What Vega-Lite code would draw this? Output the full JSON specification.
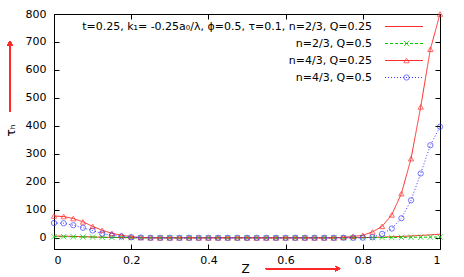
{
  "$schema": "https://vega.github.io/schema/vega-lite/v6.json",
  "width": 386,
  "height": 235,
  "autosize": {"type": "none"},
  "padding": {"left": 54, "top": 14, "right": 24, "bottom": 28},
  "background": "white",
  "config": {
    "view": {"stroke": "black", "strokeWidth": 1},
    "font": "DejaVu Sans",
    "axis": {"labelFont": "DejaVu Sans", "labelFontSize": 11, "labelColor": "black", "titleFont": "DejaVu Sans", "titleFontWeight": "normal", "titleColor": "black", "domainColor": "black", "tickColor": "black", "grid": false},
    "legend": {"labelFont": "DejaVu Sans", "labelFontSize": 11, "labelColor": "black", "labelLimit": 400}
  },
  "data": {
    "values": [
      {"z": 0, "A": 6, "B": 4, "C": 78, "D": 53},
      {"z": 0.025, "A": 6, "B": 4, "C": 76, "D": 52},
      {"z": 0.05, "A": 5, "B": 3.5, "C": 69, "D": 45},
      {"z": 0.075, "A": 4, "B": 3, "C": 57, "D": 36},
      {"z": 0.1, "A": 3, "B": 2.5, "C": 41, "D": 26},
      {"z": 0.125, "A": 2, "B": 2, "C": 27, "D": 15},
      {"z": 0.15, "A": 1.5, "B": 1.5, "C": 16, "D": 9},
      {"z": 0.175, "A": 1, "B": 1, "C": 9, "D": 5},
      {"z": 0.2, "A": 0.5, "B": 0.5, "C": 4, "D": 2},
      {"z": 0.225, "A": 0, "B": 0, "C": 1.5, "D": 1},
      {"z": 0.25, "A": 0, "B": 0, "C": 0.5, "D": 0},
      {"z": 0.275, "A": 0, "B": 0, "C": 0, "D": 0},
      {"z": 0.3, "A": 0, "B": 0, "C": 0, "D": 0},
      {"z": 0.325, "A": 0, "B": 0, "C": 0, "D": 0},
      {"z": 0.35, "A": 0, "B": 0, "C": 0, "D": 0},
      {"z": 0.375, "A": 0, "B": 0, "C": 0, "D": 0},
      {"z": 0.4, "A": 0, "B": 0, "C": 0, "D": 0},
      {"z": 0.425, "A": 0, "B": 0, "C": 0, "D": 0},
      {"z": 0.45, "A": 0, "B": 0, "C": 0, "D": 0},
      {"z": 0.475, "A": 0, "B": 0, "C": 0, "D": 0},
      {"z": 0.5, "A": 0, "B": 0, "C": 0, "D": 0},
      {"z": 0.525, "A": 0, "B": 0, "C": 0, "D": 0},
      {"z": 0.55, "A": 0, "B": 0, "C": 0, "D": 0},
      {"z": 0.575, "A": 0, "B": 0, "C": 0, "D": 0},
      {"z": 0.6, "A": 0, "B": 0, "C": 0, "D": 0},
      {"z": 0.625, "A": 0, "B": 0, "C": 0, "D": 0},
      {"z": 0.65, "A": 0, "B": 0, "C": 0, "D": 0},
      {"z": 0.675, "A": 0, "B": 0, "C": 0, "D": 0},
      {"z": 0.7, "A": 0, "B": 0, "C": 0, "D": 0},
      {"z": 0.725, "A": 0, "B": 0, "C": 0, "D": 0},
      {"z": 0.75, "A": 0.5, "B": 0, "C": 2, "D": 0},
      {"z": 0.775, "A": 0.5, "B": 0, "C": 5, "D": 0},
      {"z": 0.8, "A": 1, "B": 0.5, "C": 9, "D": 0.5},
      {"z": 0.825, "A": 1.5, "B": 0.5, "C": 21, "D": 2},
      {"z": 0.85, "A": 2.5, "B": 1, "C": 41, "D": 14},
      {"z": 0.875, "A": 3.5, "B": 1, "C": 82, "D": 33},
      {"z": 0.9, "A": 5, "B": 1.5, "C": 158, "D": 70},
      {"z": 0.925, "A": 6.5, "B": 2, "C": 283, "D": 134},
      {"z": 0.95, "A": 8.5, "B": 2, "C": 468, "D": 230},
      {"z": 0.975, "A": 10.5, "B": 2.5, "C": 674, "D": 331},
      {"z": 1, "A": 13, "B": 3, "C": 800, "D": 397}
    ]
  },
  "resolve": {"axis": {"x": "independent", "y": "independent"}},
  "layer": [
    {
      "transform": [{"fold": ["A", "B", "C", "D"], "as": ["s", "v"]}],
      "mark": {"type": "line", "strokeWidth": 1},
      "encoding": {
        "x": {"field": "z", "type": "quantitative", "scale": {"domain": [0, 1], "nice": false, "zero": false},
          "axis": {"orient": "bottom", "values": [0, 0.2, 0.4, 0.6, 0.8, 1], "format": "~g", "tickSize": -5, "labelPadding": 10, "title": "Z", "titleFontSize": 12, "titleX": 191, "titleY": 19, "titleBaseline": "middle", "titleAlign": "center"}},
        "y": {"field": "v", "type": "quantitative", "scale": {"domain": [-40, 800], "nice": false, "zero": false},
          "axis": {"orient": "left", "values": [0, 100, 200, 300, 400, 500, 600, 700, 800], "tickSize": -5, "labelPadding": 13, "title": "τₕ", "titleFontSize": 12, "titleX": -44, "titleY": 116, "titleAngle": 270, "titleBaseline": "middle", "titleAlign": "center"}},
        "color": {"field": "s", "type": "nominal",
          "scale": {"domain": ["A", "B", "C", "D"], "range": ["#ff2a2a", "#00cc00", "#ff2a2a", "#3a3aff"]},
          "legend": {"orient": "none", "legendX": 344.5, "legendY": 7, "title": null, "padding": 0, "symbolType": "M-3.8,0L3.8,0", "symbolSize": 100, "symbolStrokeWidth": 1, "labelAlign": "right", "labelOffset": -37.5, "rowPadding": 5,
            "labelExpr": "datum.value == 'A' ? 't=0.25, k₁= -0.25a₀/λ, ϕ=0.5, τ=0.1, n=2/3, Q=0.25' : datum.value == 'B' ? 'n=2/3, Q=0.5' : datum.value == 'C' ? 'n=4/3, Q=0.25' : 'n=4/3, Q=0.5'"}},
        "strokeDash": {"field": "s", "type": "nominal",
          "scale": {"domain": ["A", "B", "C", "D"], "range": [[1, 0], [3, 2], [1, 0], [1, 2]]},
          "legend": {"orient": "none", "legendX": 344.5, "legendY": 7, "title": null, "padding": 0, "symbolType": "M-3.8,0L3.8,0", "symbolSize": 100, "symbolStrokeWidth": 1, "labelAlign": "right", "labelOffset": -37.5, "rowPadding": 5,
            "labelExpr": "datum.value == 'A' ? 't=0.25, k₁= -0.25a₀/λ, ϕ=0.5, τ=0.1, n=2/3, Q=0.25' : datum.value == 'B' ? 'n=2/3, Q=0.5' : datum.value == 'C' ? 'n=4/3, Q=0.25' : 'n=4/3, Q=0.5'"}}
      }
    },
    {
      "transform": [{"fold": ["A", "B", "C", "D"], "as": ["s", "v"]}],
      "mark": {"type": "point", "filled": false, "strokeWidth": 1, "size": 28},
      "encoding": {
        "x": {"field": "z", "type": "quantitative",
          "axis": {"orient": "top", "values": [0, 0.2, 0.4, 0.6, 0.8, 1], "labels": false, "tickSize": -5, "title": null, "domain": false}},
        "y": {"field": "v", "type": "quantitative",
          "axis": {"orient": "right", "values": [0, 100, 200, 300, 400, 500, 600, 700, 800], "labels": false, "tickSize": -5, "title": null, "domain": false}},
        "color": {"field": "s", "type": "nominal", "legend": null},
        "shape": {"field": "s", "type": "nominal",
          "scale": {"domain": ["A", "B", "C", "D", "E"], "range": ["M0,0", "M-1,-1L1,1M-1,1L1,-1", "triangle-up", "circle", "M0,0"]},
          "legend": {"orient": "none", "legendX": 347, "legendY": 7, "title": null, "padding": 0, "symbolSize": 28, "symbolStrokeWidth": 1, "labelOpacity": 0, "labelAlign": "right", "labelOffset": -37.5, "rowPadding": 5,
            "labelExpr": "datum.value == 'A' ? 't=0.25, k₁= -0.25a₀/λ, ϕ=0.5, τ=0.1, n=2/3, Q=0.25' : datum.value == 'B' ? 'n=2/3, Q=0.5' : datum.value == 'C' ? 'n=4/3, Q=0.25' : datum.value == 'D' ? 'n=4/3, Q=0.5' : ' '",
            "encoding": {"symbols": {"stroke": {"value": {"expr": "scale('color', datum.value)"}}, "fill": {"value": "transparent"}}}}}
      }
    },
    {
      "mark": {"type": "rule", "color": "#ff2a2a", "strokeWidth": 1},
      "encoding": {
        "x": {"datum": 0.549, "type": "quantitative", "axis": null},
        "x2": {"datum": 0.741},
        "y": {"datum": -110, "type": "quantitative", "axis": null}
      }
    },
    {
      "mark": {"type": "rule", "color": "#ff2a2a", "strokeWidth": 1},
      "encoding": {
        "x": {"datum": -0.114, "type": "quantitative", "axis": null},
        "y": {"datum": 451, "type": "quantitative", "axis": null},
        "y2": {"datum": 701}
      }
    },
    {
      "mark": {"type": "point", "shape": "M-1,-1L1,0L-1,1", "filled": false, "color": "#ff2a2a", "strokeWidth": 1, "size": 16},
      "encoding": {
        "x": {"datum": 0.735, "type": "quantitative", "axis": null},
        "y": {"datum": -110, "type": "quantitative", "axis": null}
      }
    },
    {
      "mark": {"type": "point", "shape": "M-1,1L0,-1L1,1", "filled": false, "color": "#ff2a2a", "strokeWidth": 1, "size": 16},
      "encoding": {
        "x": {"datum": -0.114, "type": "quantitative", "axis": null},
        "y": {"datum": 695, "type": "quantitative", "axis": null}
      }
    }
  ]
}
